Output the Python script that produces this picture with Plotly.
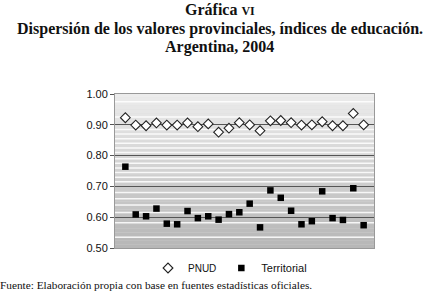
import plotly.graph_objects as go

provinces = list(range(1, 25))
pnud = [0.923, 0.899, 0.897, 0.906, 0.899, 0.899, 0.906, 0.894, 0.903, 0.876,
        0.889, 0.907, 0.900, 0.881, 0.913, 0.914, 0.907, 0.899, 0.900, 0.910,
        0.897, 0.897, 0.937, 0.900]
territorial = [0.764, 0.609, 0.603, 0.628, 0.579, 0.577, 0.620, 0.597, 0.603, 0.592,
               0.610, 0.616, 0.644, 0.567, 0.687, 0.663, 0.621, 0.577, 0.587, 0.684,
               0.597, 0.591, 0.694, 0.574]
y_ticks = [0.50, 0.60, 0.70, 0.80, 0.90, 1.00]

W, H = 439, 295
L, R, T, B = 115, 65, 94, 47

fig = go.Figure()
fig.add_trace(go.Scatter(x=provinces, y=pnud, mode="markers",
                         name="<span style='font-size:10px'>PNUD</span>",
                         marker=dict(symbol="diamond", size=7.5, color="white",
                                     line=dict(color="#222", width=1.1))))
fig.add_trace(go.Scatter(x=provinces, y=territorial, mode="markers", name="Territorial",
                         marker=dict(symbol="square", size=6.5, color="black",
                                     line=dict(width=0))))

# gradient background bands
shapes = []
n = 40
for i in range(n):
    y0 = 0.5 + i * 0.5 / n
    y1 = y0 + 0.5 / n
    t = i / (n - 1)
    g = int(0xb7 + (0xec - 0xb7) * t)
    col = f"rgb({g},{g},{g})"
    shapes.append(dict(type="rect", xref="x domain", yref="y", x0=0, x1=1, y0=y0, y1=y1,
                       fillcolor=col, line=dict(width=0), layer="below"))
# white stripes
for ys in [0.535, 0.582, 0.615, 0.64, 0.66, 0.68, 0.715, 0.73, 0.745, 0.76, 0.775,
           0.79, 0.81, 0.825, 0.84, 0.855, 0.87, 0.885, 0.925, 0.975]:
    shapes.append(dict(type="line", xref="x domain", yref="y", x0=0, x1=1, y0=ys, y1=ys,
                       line=dict(color="rgba(255,255,255,0.85)", width=1.5), layer="below"))

fig.update_layout(
    width=W, height=H,
    margin=dict(l=L, r=R, t=T, b=B, autoexpand=False),
    paper_bgcolor="white", plot_bgcolor="#dcdcdc",
    shapes=shapes,
    showlegend=True,
    legend=dict(orientation="h", xref="container", yref="container",
                x=230 / W, xanchor="center", y=1 - 268 / H, yanchor="middle",
                font=dict(family="Liberation Sans, Arial", size=11, color="#111"),
                tracegroupgap=0, bgcolor="rgba(0,0,0,0)"),
    font=dict(family="Liberation Sans, Arial", size=11, color="#111"),
)
fig.update_xaxes(range=[0, 25], showticklabels=False, showgrid=False, zeroline=False,
                 showline=True, linecolor="#999", linewidth=1, mirror=True, ticks="")
fig.update_yaxes(range=[0.5, 1.0], tickvals=y_ticks, tickformat=".2f",
                 showgrid=True, gridcolor="#555", gridwidth=1, zeroline=False,
                 showline=True, linecolor="#999", linewidth=1, mirror=True,
                 ticks="outside", ticklen=4, tickcolor="#555",
                 tickfont=dict(family="Liberation Sans, Arial", size=11, color="#111"))

serif = "Liberation Serif, Times New Roman, serif"
cx = (W / 2 - L) / (W - L - R)
for txt, ypx in [("<b>Gráfica <span style='font-size:12px'>VI</span></b>", 9),
                 ("<b>Dispersión de los valores provinciales, índices de educación.</b>", 29),
                 ("<b>Argentina, 2004</b>", 47)]:
    fig.add_annotation(text=txt, xref="paper", yref="paper", x=cx, y=1,
                       xanchor="center", yanchor="middle", yshift=T - ypx, showarrow=False,
                       font=dict(family=serif, size=16, color="#111"))
fig.add_annotation(text="Fuente: Elaboración propia con base en fuentes estadísticas oficiales.",
                   xref="paper", yref="paper", x=0, y=0, xanchor="left", yanchor="middle",
                   xshift=-L - 2, yshift=-(285 - (H - B)), showarrow=False,
                   font=dict(family=serif, size=11.3, color="#111"))

fig.write_html("out.html", config={"displayModeBar": False},
               post_script="document.body.style.margin='0';document.body.style.overflow='hidden';")
